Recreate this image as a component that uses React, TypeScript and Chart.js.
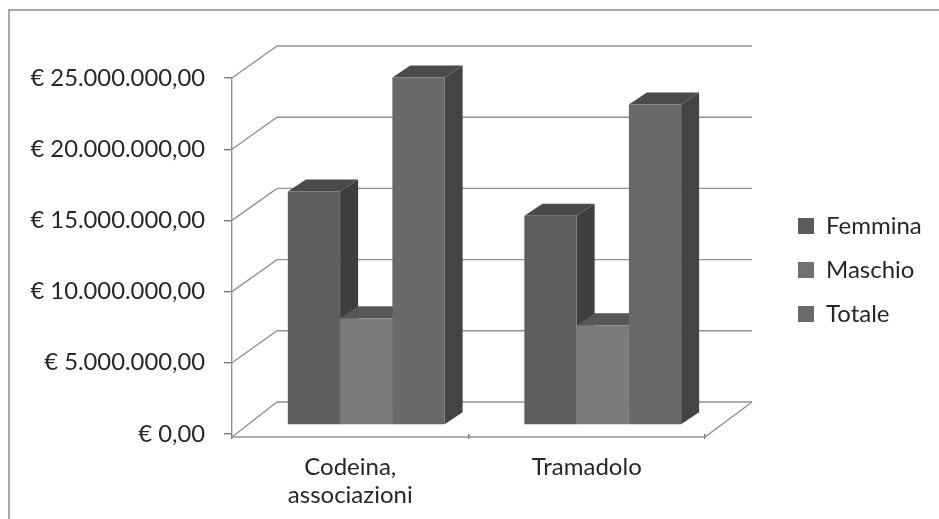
import React, { useEffect, useRef } from "react";
import { Chart, registerables } from "chart.js";

Chart.register(...registerables);

const categories = [["Codeina,", "associazioni"], ["Tramadolo"]];
const seriesNames = ["Femmina", "Maschio", "Totale"];
const femmina = [16400000, 14700000];
const maschio = [7500000, 7000000];
const totale = [24400000, 22500000];
const yTickLabels = [
  "€ 0,00",
  "€ 5.000.000,00",
  "€ 10.000.000,00",
  "€ 15.000.000,00",
  "€ 20.000.000,00",
  "€ 25.000.000,00",
];
const frontColors = ["#5f5f5f", "#7b7b7b", "#696969"];
const legendColors = ["#5c5c5c", "#717171", "#6a6a6a"];
const sideColors = ["#3e3e3e", "#4a4a4a", "#444444"];
const topColors = ["#4a4a4a", "#575757", "#4b4b4b"];

const FONT = "Lato, Carlito, sans-serif";
const TEXT = "#272727";
const LINE = "#929292";
const WALL_DX = 45;
const WALL_DY = -32;
const BAR_DX = 16;
const BAR_DY = -9;
const DEPTH_DX = 18;
const DEPTH_DY = -12;

const poly = (ctx: CanvasRenderingContext2D, pts: number[][], fill: string) => {
  ctx.beginPath();
  pts.forEach(([x, y], i) => (i ? ctx.lineTo(x, y) : ctx.moveTo(x, y)));
  ctx.closePath();
  ctx.fillStyle = fill;
  ctx.fill();
};

const scene3d = {
  id: "scene3d",
  afterLayout(chart: any) {
    const l = chart.legend;
    l.left = 778;
    l.right = 939;
    l.top = 100;
    l.bottom = 440;
    l.width = 161;
    l.height = 340;
  },
  beforeDraw(chart: any) {
    const { ctx, width, height } = chart;
    ctx.save();
    ctx.strokeStyle = "#8f8f8f";
    ctx.lineWidth = 1.5;
    ctx.beginPath();
    ctx.moveTo(9, height);
    ctx.lineTo(9, 10);
    ctx.lineTo(width, 10);
    ctx.stroke();
    ctx.restore();
  },
  beforeDatasetsDraw(chart: any) {
    const { ctx, chartArea, scales } = chart;
    const { left, right, bottom } = chartArea;
    ctx.save();
    ctx.strokeStyle = LINE;
    ctx.lineWidth = 1.4;
    scales.y.ticks.forEach((t: any) => {
      const y = scales.y.getPixelForValue(t.value);
      const yy = t.value === 0 ? y + 3 : y;
      ctx.beginPath();
      ctx.moveTo(left, yy);
      ctx.lineTo(left + WALL_DX, y + WALL_DY);
      ctx.lineTo(right + WALL_DX + 2, y + WALL_DY);
      ctx.stroke();
    });
    const floor = bottom + 3;
    ctx.beginPath();
    ctx.moveTo(left, floor);
    ctx.lineTo(right, floor);
    ctx.lineTo(right + WALL_DX + 2, bottom + WALL_DY);
    ctx.stroke();
    ctx.restore();

    ctx.save();
    ctx.translate(BAR_DX, BAR_DY);
    chart.data.datasets.forEach((_: any, di: number) => {
      const meta = chart.getDatasetMeta(di);
      meta.data.forEach((bar: any) => {
        const p = bar.getProps(["x", "y", "base", "width"], true);
        const x0 = p.x - p.width / 2;
        const x1 = p.x + p.width / 2;
        poly(
          ctx,
          [
            [x1, p.y],
            [x1 + DEPTH_DX, p.y + DEPTH_DY],
            [x1 + DEPTH_DX, p.base + DEPTH_DY],
            [x1, p.base],
          ],
          sideColors[di]
        );
        poly(
          ctx,
          [
            [x0, p.y],
            [x0 + DEPTH_DX, p.y + DEPTH_DY],
            [x1 + DEPTH_DX, p.y + DEPTH_DY],
            [x1, p.y],
          ],
          topColors[di]
        );
        bar.draw(ctx, chartArea);
      });
    });
    ctx.restore();
  },
  beforeDatasetDraw() {
    return false;
  },
};

export default function App() {
  const ref = useRef<HTMLCanvasElement>(null);

  useEffect(() => {
    const chart = new Chart(ref.current as HTMLCanvasElement, {
      type: "bar",
      data: {
        labels: categories as any,
        datasets: [femmina, maschio, totale].map((data, i) => ({
          label: seriesNames[i],
          data,
          backgroundColor: frontColors[i],
          borderWidth: 0,
          clip: false as any,
          categoryPercentage: 0.663,
          barPercentage: 1,
        })),
      },
      options: {
        responsive: false,
        animation: false,
        devicePixelRatio: 1,
        layout: { padding: { top: 78, right: 234, left: 0, bottom: 0 } },
        plugins: {
          title: { display: false },
          tooltip: { enabled: false },
          legend: {
            position: "chartArea" as any,
            align: "center",
            labels: {
              color: TEXT,
              font: { family: FONT, size: 24 },
              boxWidth: 16,
              boxHeight: 16,
              padding: 20,
              generateLabels: () =>
                seriesNames.map((text, i) => ({
                  text,
                  fillStyle: legendColors[i],
                  strokeStyle: legendColors[i],
                  lineWidth: 0,
                  datasetIndex: i,
                  fontColor: TEXT,
                })),
            },
          },
        },
        scales: {
          x: {
            grid: {
              offset: true,
              drawOnChartArea: false,
              drawTicks: true,
              tickLength: 5,
              color: "#777777",
              lineWidth: 1.4,
            },
            border: { display: false },
            ticks: {
              color: TEXT,
              padding: 14,
              maxRotation: 0,
              autoSkip: false,
              font: { family: FONT, size: 24, lineHeight: 1.17 },
            },
            afterFit: (s: any) => {
              s.height = 85;
            },
          },
          y: {
            min: 0,
            max: 25000000,
            grid: {
              drawOnChartArea: false,
              tickLength: 8,
              color: "#777777",
              lineWidth: 1.4,
            },
            border: { display: true, color: LINE, width: 1.4 },
            ticks: {
              stepSize: 5000000,
              color: TEXT,
              padding: 19,
              font: { family: FONT, size: 23.8 },
              callback: (_v: any, i: number) => yTickLabels[i],
            },
            afterFit: (s: any) => {
              s.width = 232;
            },
          },
        },
      },
      plugins: [scene3d as any],
    });
    return () => chart.destroy();
  }, []);

  return (
    <div style={{ position: "absolute", left: 0, top: 0, width: 939, height: 519, background: "#fff" }}>
      <canvas ref={ref} width={939} height={519} style={{ display: "block", filter: "blur(0.5px)" }} />
    </div>
  );
}
